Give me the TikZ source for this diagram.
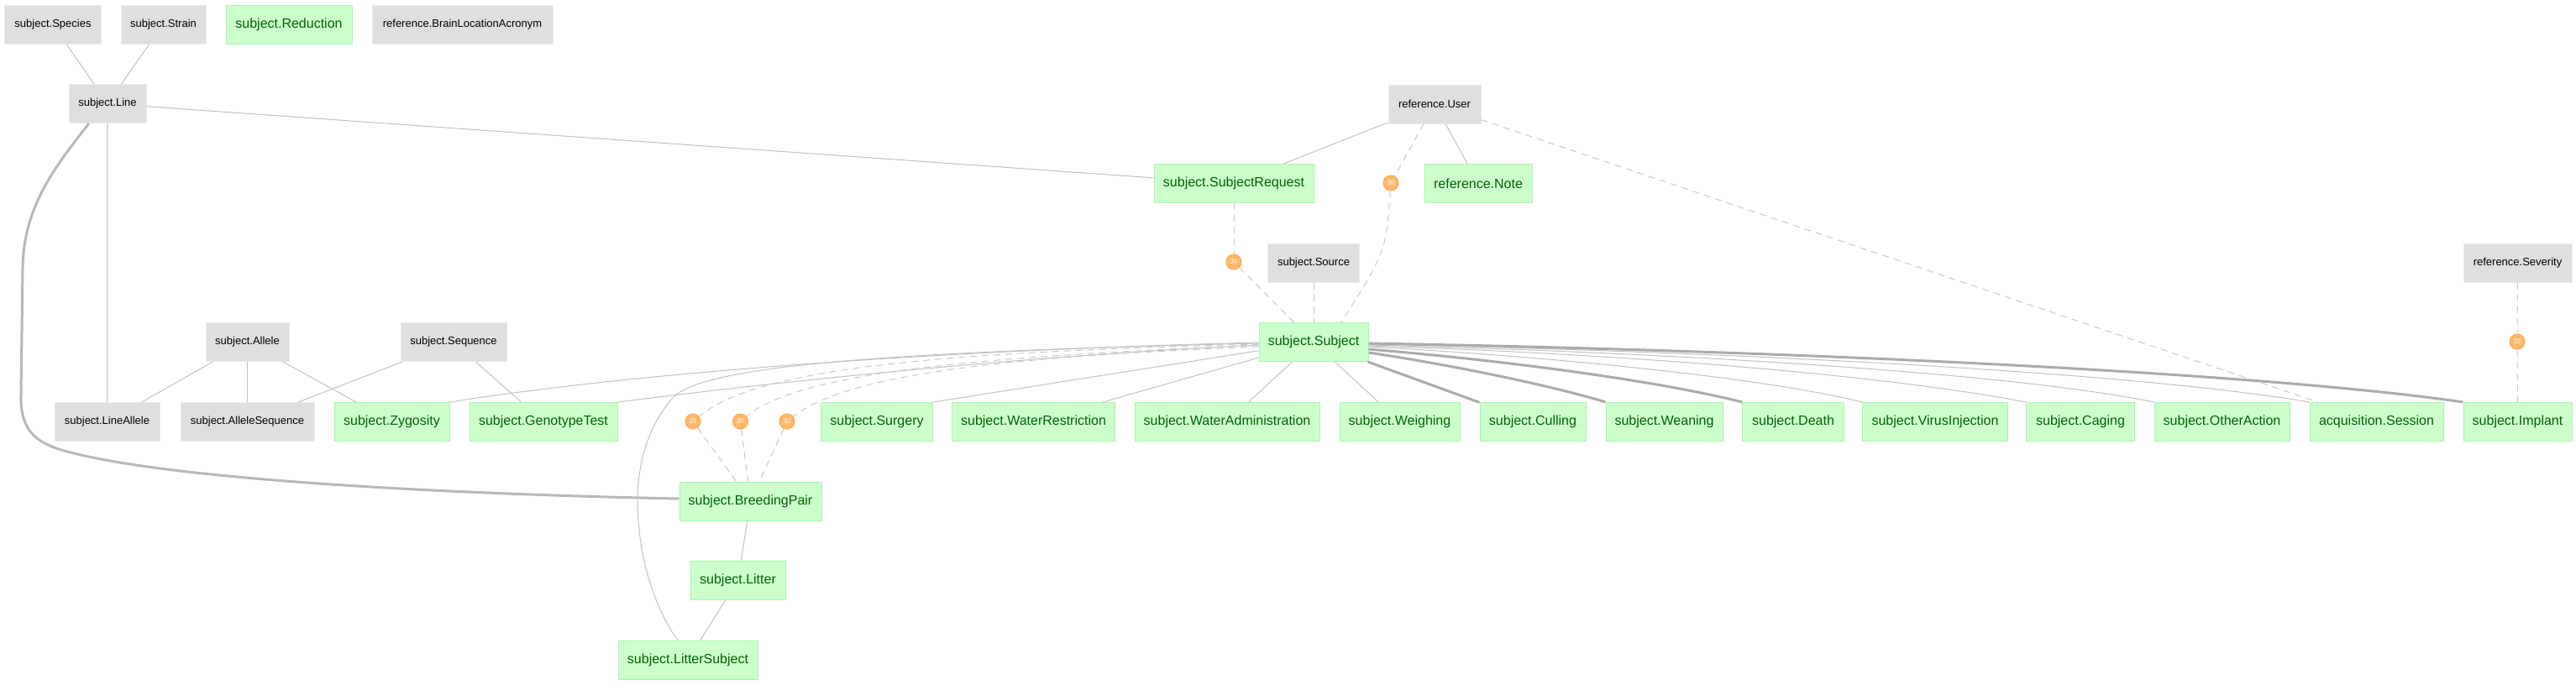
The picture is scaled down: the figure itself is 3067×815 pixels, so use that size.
\documentclass[tikz,border=0pt]{standalone}
\usepackage{fontspec}
\setmainfont{Liberation Sans}
\definecolor{gfill}{HTML}{CCFFCC}
\definecolor{gborder}{HTML}{A8F5A8}
\definecolor{dgreen}{HTML}{006400}
\definecolor{lfill}{HTML}{DFDFDF}
\definecolor{lborder}{HTML}{EBEBEB}
\definecolor{ofill}{HTML}{FFB86B}
\definecolor{oborder}{HTML}{FFA64D}
\definecolor{ethincol}{HTML}{C2C2C2}
\definecolor{ethickcol}{HTML}{ABABAB}
\definecolor{elightcol}{HTML}{D8D8D8}
\definecolor{edashcol}{HTML}{C8C8C8}
\tikzset{
  man/.style={rectangle, inner sep=0pt, minimum height=46pt, fill=gfill, draw=gborder, line width=1pt, text=dgreen, font=\fontsize{16}{19}\selectfont},
  lk/.style={rectangle, inner sep=0pt, minimum height=46pt, fill=lfill, draw=lborder, line width=1pt, text=black, font=\fontsize{13}{15}\selectfont},
  al/.style={circle, inner sep=0pt, minimum size=18pt, fill=ofill, draw=oborder, line width=1pt, text=white, font=\fontsize{8}{9}\selectfont},
  ethin/.style={draw=ethincol, line width=1pt},
  ethick/.style={draw=ethickcol, line width=3pt},
  elight/.style={draw=elightcol, line width=2pt},
  edash/.style={draw=edashcol, line width=1pt, dash pattern=on 8pt off 6pt},
}
\begin{document}
\begin{tikzpicture}[x=1pt, y=-1pt]
\path[use as bounding box] (0,0) rectangle (3067,815);

% top row
\node[lk, minimum width=115pt] (species) at (63,29) {subject.Species};
\node[lk, minimum width=101pt] (strain) at (194.5,29) {subject.Strain};
\node[man, minimum width=150pt] (reduction) at (344,29) {subject.Reduction};
\node[lk, minimum width=215pt] (brainloc) at (550.5,29) {reference.BrainLocationAcronym};
\node[lk, minimum width=92pt] (line) at (128,123.5) {subject.Line};
\node[lk, minimum width=110pt] (user) at (1708,124) {reference.User};
\node[man, minimum width=190pt] (sreq) at (1469,218.5) {subject.SubjectRequest};
\node[man, minimum width=128pt] (note) at (1760,218.5) {reference.Note};
\node[lk, minimum width=109pt] (source) at (1564,313) {subject.Source};
\node[lk, minimum width=129pt] (severity) at (2997.5,313) {reference.Severity};
\node[lk, minimum width=99pt] (allele) at (294.5,407.5) {subject.Allele};
\node[lk, minimum width=126pt] (sequence) at (540,407.5) {subject.Sequence};
\node[man, minimum width=130pt] (subject) at (1564,407.5) {subject.Subject};

% row
\node[lk, minimum width=125pt] (lineallele) at (127.5,502.5) {subject.LineAllele};
\node[lk, minimum width=159pt] (alleleseq) at (294.5,502.5) {subject.AlleleSequence};
\node[man, minimum width=137pt] (zyg) at (466.5,502.5) {subject.Zygosity};
\node[man, minimum width=176pt] (geno) at (647,502.5) {subject.GenotypeTest};
\node[man, minimum width=133pt] (surgery) at (1044,502.5) {subject.Surgery};
\node[man, minimum width=194pt] (wrestr) at (1230.5,502.5) {subject.WaterRestriction};
\node[man, minimum width=220pt] (wadmin) at (1461,502.5) {subject.WaterAdministration};
\node[man, minimum width=143pt] (weigh) at (1666.5,502.5) {subject.Weighing};
\node[man, minimum width=126pt] (cull) at (1825,502.5) {subject.Culling};
\node[man, minimum width=139pt] (wean) at (1981.5,502.5) {subject.Weaning};
\node[man, minimum width=120.5pt] (death) at (2135,502.5) {subject.Death};
\node[man, minimum width=173pt] (virus) at (2304,502.5) {subject.VirusInjection};
\node[man, minimum width=128.5pt] (caging) at (2477,502.5) {subject.Caging};
\node[man, minimum width=161pt] (other) at (2645.5,502.5) {subject.OtherAction};
\node[man, minimum width=159pt] (session) at (2829.5,502.5) {acquisition.Session};
\node[man, minimum width=129pt] (implant) at (2997.5,502.5) {subject.Implant};

\node[man, minimum width=169pt] (bpair) at (893.5,597) {subject.BreedingPair};
\node[man, minimum width=113pt] (litter) at (878.5,691.5) {subject.Litter};
\node[man, minimum width=166pt] (lsubj) at (819,786) {subject.LitterSubject};

% alias circles
\node[al] (a31) at (825,502) {31};
\node[al] (a30) at (881.5,502) {30};
\node[al] (a32) at (937,502) {32};
\node[al] (a33) at (2997,407) {33};
\node[al] (a34) at (1469,312) {34};
\node[al] (a35) at (1656,218) {35};

% edges
\begin{scope}[on background layer/.try]
\path[ethin] (species) -- (line);
\path[ethin] (strain) -- (line);
\path[ethin] (line) -- (sreq);
\path[elight] (line) -- (lineallele);
\path[ethick, draw=ethickcol!85] ([xshift=-22pt]line.south) .. controls (60,205) and (28,250) .. (27,320) -- (25,470) .. controls (24,510) and (40,525) .. (70,535) .. controls (200,575) and (600,590) .. ([yshift=3pt]bpair.west);
\path[ethin] (allele) -- (lineallele);
\path[ethin] (allele) -- (alleleseq);
\path[ethin] (allele) -- (zyg);
\path[ethin] (sequence) -- (alleleseq);
\path[ethin] (sequence) -- (geno);

\path[ethin] (user) -- (sreq);
\path[ethin] (user) -- (note);
\path[edash] (user) -- (a35);
\path[edash] (a35) .. controls (1650,300) .. ([xshift=33pt]subject.north);
\path[edash] (user) -- (session);
\path[edash] (sreq) -- (a34);
\path[edash] (a34) -- (subject);
\path[edash] (source) -- (subject);
\path[edash] (severity) -- (a33);
\path[edash] (a33) -- (implant);

% left fan
\path[ethin] ([yshift=-0.5pt]subject.west) .. controls (1100,418) and (750,445) .. (zyg.north east);
\path[ethin] ([yshift=-3.5pt]subject.west) .. controls (1200,425) and (900,458) .. (geno.north east);
\path[ethin] ([yshift=-1.5pt]subject.west) .. controls (1000,420) and (830,440) .. (800,475) .. controls (770,510) and (755,560) .. (760,620) .. controls (765,690) and (790,740) .. ([xshift=-12pt]lsubj.north);
\path[edash] ([yshift=-2.5pt]subject.west) .. controls (1100,420) and (900,440) .. (a31);
\path[edash] ([yshift=-4pt]subject.west) .. controls (1150,425) and (950,445) .. (a30);
\path[edash] ([yshift=-5.5pt]subject.west) .. controls (1200,425) and (1010,445) .. (a32);
\path[edash] (a31) -- (bpair);
\path[edash] (a30) -- (bpair);
\path[edash] (a32) -- (bpair);
\path[ethin] (subject) -- (surgery.north east);
\path[ethin] (subject) -- (wrestr);
\path[ethin] (subject) -- (wadmin);
\path[ethin] (subject) -- (weigh);

% right fan
\path[ethick] (subject) -- (cull);
\path[ethick] ([yshift=-12.5pt]subject.east) .. controls (1730,435) and (1850,460) .. (wean.north west);
\path[ethick] ([yshift=-8.5pt]subject.east) .. controls (1800,430) and (1980,455) .. (death.north west);
\path[ethin] ([yshift=-5.5pt]subject.east) .. controls (1850,425) and (2100,450) .. (virus.north west);
\path[ethin] ([yshift=-4.5pt]subject.east) .. controls (1950,422) and (2250,448) .. (caging.north west);
\path[ethin] ([yshift=-3.5pt]subject.east) .. controls (2000,420) and (2400,445) .. (other.north west);
\path[ethin] ([yshift=-2.5pt]subject.east) .. controls (2100,420) and (2550,445) .. (session.north west);
\path[ethick] ([yshift=-1.5pt]subject.east) .. controls (2150,418) and (2700,445) .. (implant.north west);

\path[ethin] (bpair) -- (litter);
\path[ethin] (litter) -- (lsubj);
\end{scope}
\end{tikzpicture}
\end{document}
